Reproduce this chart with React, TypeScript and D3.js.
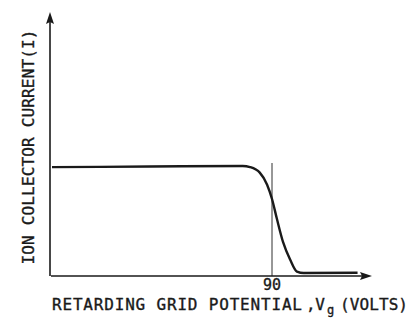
import React from "react";
import * as d3 from "d3";

const voltage = [0, 40, 78, 81, 85, 88, 90, 92, 94.5, 97.4, 100.2, 103, 125];
const current = [0.99, 0.995, 1.0, 0.99, 0.94, 0.83, 0.7, 0.52, 0.31, 0.15, 0.04, 0.027, 0.03];
const xTicks = [90];
const xLabel = "RETARDING GRID POTENTIAL";
const xLabelV = ",V";
const xLabelSub = "g";
const xLabelEnd = "(VOLTS)";
const yLabel = "ION COLLECTOR CURRENT(I)";

export default function App() {
  const W = 410, H = 320;
  const x = d3.scaleLinear().domain([0, 90]).range([52, 272]);
  const y = d3.scaleLinear().domain([0, 1]).range([276, 166]);
  const pts = voltage.map((v, i) => [x(v), y(current[i])] as [number, number]);
  const line = d3.line().curve(d3.curveMonotoneX)(pts) || "";
  const ink = "#1a1a1a";
  const font = "'DejaVu Sans Mono', monospace";
  const textStyle = { stroke: ink, strokeWidth: 0.35 };
  return (
    <svg width={W} height={H} style={{ position: "absolute", left: 0, top: 0, background: "#fff" }}>
      <line x1={x(0) - 1} y1={y(0)} x2={364} y2={y(0)} stroke={ink} strokeWidth={1.6} />
      <path d={`M372,${y(0)} L360,${y(0) - 4} L362,${y(0)} L360,${y(0) + 4} Z`} fill={ink} />
      <line x1={50} y1={y(0)} x2={50} y2={22} stroke={ink} strokeWidth={1.6} />
      <path d={`M50,12 L46,24 L50,22 L54,24 Z`} fill={ink} />
      {xTicks.map((t) => (
        <g key={t}>
          <line x1={x(t)} y1={y(1) - 3} x2={x(t)} y2={y(0)} stroke={ink} strokeWidth={0.9} />
          <text x={x(t)} y={290} textAnchor="middle" fontFamily={font} fontSize={15} fill={ink} style={textStyle}>{t}</text>
        </g>
      ))}
      <path d={line} fill="none" stroke={ink} strokeWidth={2.4} />
      <text x={52} y={310} fontFamily={font} fontSize={16} fill={ink} style={textStyle} textLength={250} lengthAdjust="spacing">{xLabel}</text>
      <text x={306} y={310} fontFamily={font} fontSize={16} fill={ink} style={textStyle} textLength={19} lengthAdjust="spacing">{xLabelV}</text>
      <text x={327} y={314} fontFamily={font} fontSize={12} fill={ink} style={textStyle}>{xLabelSub}</text>
      <text x={340} y={310} fontFamily={font} fontSize={16} fill={ink} style={textStyle} textLength={68} lengthAdjust="spacing">{xLabelEnd}</text>
      <text transform="translate(34,147) rotate(-90)" textAnchor="middle" fontFamily={font} fontSize={16} fill={ink} style={textStyle} textLength={235} lengthAdjust="spacing">{yLabel}</text>
    </svg>
  );
}
